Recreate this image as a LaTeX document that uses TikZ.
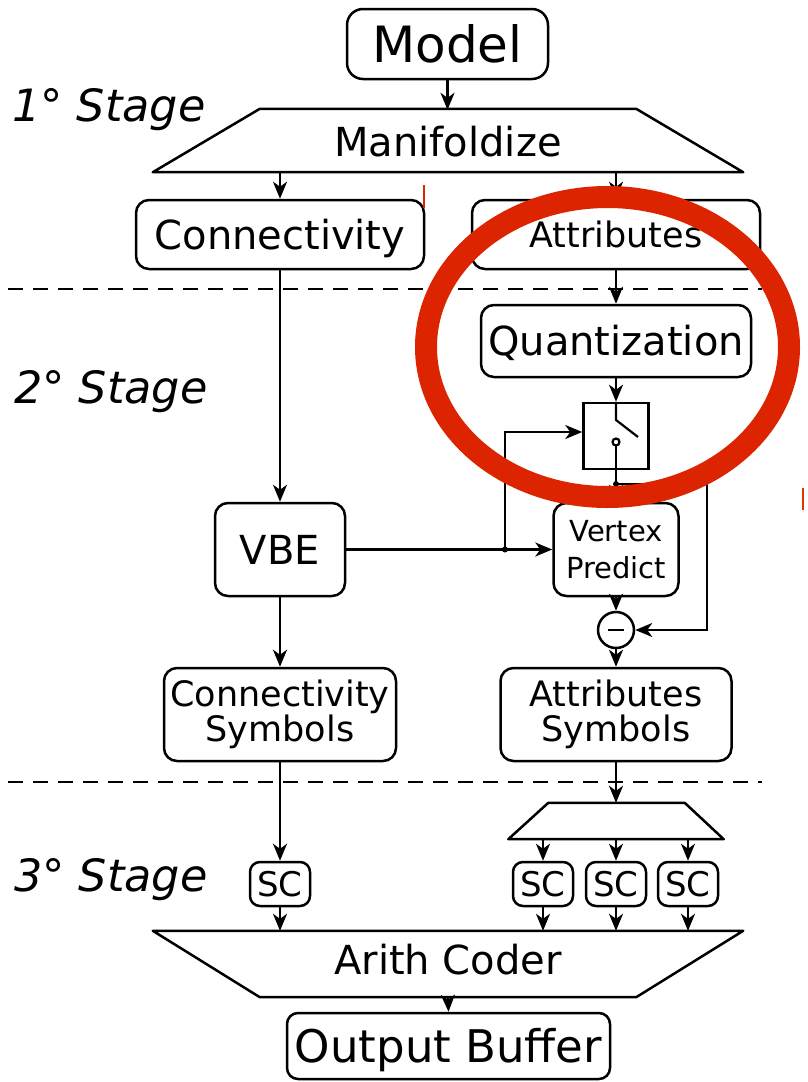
\documentclass[tikz,border=0pt]{standalone}
\usepackage{fontspec}
\setmainfont{DejaVu Sans}
\usetikzlibrary{arrows.meta,calc}
\definecolor{hl}{RGB}{221,36,0}
\tikzset{
  box/.style={draw, line width=2.5pt, rounded corners=13pt, inner sep=0pt, align=center},
  capc/.style={text height=#1, text depth=0pt},
  conn/.style={line width=2.2pt, -{Stealth[length=17pt,width=14pt,inset=5pt]}},
  plain/.style={line width=2.2pt},
  outline/.style={line width=2.5pt, line join=round},
  fA/.style={font=\fontsize{50pt}{50pt}\selectfont},
  fB/.style={font=\fontsize{40pt}{40pt}\selectfont},
  fC/.style={font=\fontsize{35pt}{35pt}\selectfont},
  fD/.style={font=\fontsize{29pt}{37pt}\selectfont},
  fE/.style={font=\fontsize{34pt}{34pt}\selectfont},
  fF/.style={font=\fontsize{45pt}{45pt}\selectfont},
  stagelbl/.style={anchor=base west, inner sep=0pt, font=\fontsize{44.5pt}{44.5pt}\selectfont\itshape},
  scbox/.style={box, fE, capc=24.8pt, minimum width=60pt, minimum height=44pt, rounded corners=10pt},
  dot/.style={fill, circle, inner sep=0pt, minimum size=6pt}
}
\begin{document}
\begin{tikzpicture}[x=1pt,y=-1pt]
\useasboundingbox (0,0) rectangle (807,1082);

% stage labels
\node[stagelbl] (st1) at (12,121) {1° Stage};
\node[stagelbl] (st2) at (14,403) {2° Stage};
\node[stagelbl] (st3) at (14,891) {3° Stage};

% dashed separators
\coordinate (d1a) at (8,289);   \coordinate (d1b) at (762,289);
\coordinate (d2a) at (8,782);   \coordinate (d2b) at (762,782);
\draw[line width=2.2pt, dash pattern=on 15pt off 10pt] (d1a) -- (d1b);
\draw[line width=2.2pt, dash pattern=on 15pt off 10pt] (d2a) -- (d2b);

% stage 1
\node[box, fA, capc=36.5pt, minimum width=201pt, minimum height=70pt, rounded corners=16pt] (model) at (447.5,44) {Model};
\node[fB, capc=29.2pt, inner sep=0pt, minimum width=590pt, minimum height=63pt] (man) at (448,141.5) {Manifoldize};
\draw[outline] ([yshift=1pt]man.south west) -- ([yshift=1pt]man.south east) -- ([xshift=-107pt,yshift=1pt]man.north east) -- ([xshift=107pt,yshift=1pt]man.north west) -- cycle;
\node[box, fB, capc=29.2pt, minimum width=288pt, minimum height=69pt] (conn) at (280,234.5) {Connectivity};
\node[box, fC, capc=25.5pt, minimum width=288pt, minimum height=69pt] (attr) at (616,234.5) {Attributes};

% stage 2
\node[box, fB, capc=29.2pt, minimum width=270pt, minimum height=72pt] (quant) at (616,341) {Quantization};
\node[draw, line width=2.5pt, inner sep=0pt, minimum width=65pt, minimum height=66pt] (sw) at (616,436) {};
\coordinate (swa) at (616,420);
\coordinate (swb) at (638,437);
\coordinate (swc) at (616,442);
\draw[plain] (sw.north) -- (swa) -- (swb);
\draw[plain] (swc) circle[radius=3.5pt];
\draw[plain] ([yshift=-3.5pt]swc) -- (sw.south);

\node[box, fB, capc=29.2pt, minimum width=130pt, minimum height=93pt] (vbe) at (280,549.5) {VBE};
\node[box, fD, minimum width=125pt, minimum height=93pt] (vp) at (616,549.5) {Vertex\\Predict};
\node[draw, circle, line width=2.5pt, inner sep=0pt, minimum size=36pt] (mn) at (616,630) {};
\draw[line width=2.6pt] ([xshift=-8pt]mn.center) -- ([xshift=8pt]mn.center);
\node[box, fC, minimum width=232pt, minimum height=93pt] (cs) at (280,714.5) {Connectivity\\Symbols};
\node[box, fC, minimum width=231pt, minimum height=93pt] (as) at (616,714.5) {Attributes\\Symbols};

% stage 3
\node[inner sep=0pt, minimum width=215pt, minimum height=36pt] (dmux) at (616,821) {};
\draw[outline] (dmux.south west) -- (dmux.south east) -- ([xshift=-39pt]dmux.north east) -- ([xshift=40pt]dmux.north west) -- cycle;
\node[scbox] (sc0) at (280,884) {SC};
\node[scbox] (sc1) at (543,884) {SC};
\node[scbox] (sc2) at (616,884) {SC};
\node[scbox] (sc3) at (688,884) {SC};
\node[fB, inner sep=0pt, text height=29pt, text depth=9pt, minimum width=590pt, minimum height=66pt] (ac) at (448,964) {Arith Coder};
\draw[outline] (ac.north west) -- (ac.north east) -- ([xshift=-107pt]ac.south east) -- ([xshift=107pt]ac.south west) -- cycle;
\node[box, fF, capc=32.8pt, minimum width=323pt, minimum height=66pt, rounded corners=11pt] (ob) at (448.5,1046) {Output Buffer};

% connectors
\draw[conn] (model.south) -- (model.south |- man.north);
\draw[conn] (conn.north |- man.south) -- (conn.north);
\draw[conn] (attr.north |- man.south) -- (attr.north);
\draw[conn] (conn.south) -- (vbe.north);
\draw[conn] (attr.south) -- (quant.north);
\draw[conn] (quant.south) -- (sw.north);

\coordinate (j2) at (616,484);
\coordinate (fb) at (707,484);
\draw[plain] (sw.south) -- (j2);
\node[dot] (j2d) at (j2) {};
\draw[conn] (j2) -- (vp.north);
\draw[conn] (j2) -- (fb) |- (mn.east);

\coordinate (j1) at (505,549.5);
\draw[conn] (vbe.east) -- (vp.west);
\node[dot] (j1d) at (j1) {};
\draw[conn] (j1) |- ([yshift=4pt]sw.west);

\draw[conn] (vp.south) -- (mn.north);
\draw[conn] (mn.south) -- (as.north);
\draw[conn] (vbe.south) -- (cs.north);
\draw[conn] (cs.south) -- (sc0.north);
\draw[conn] (as.south) -- (dmux.north);
\foreach \s in {sc1,sc2,sc3} {
  \draw[conn] (\s.north |- dmux.south) -- (\s.north);
}
\foreach \s in {sc0,sc1,sc2,sc3} {
  \draw[conn] (\s.south) -- (\s.south |- ac.north);
}
\draw[conn] (ac.south) -- (ob.north);

% highlight
\draw[hl, line width=22pt] (607.5,347) ellipse [x radius=181.5pt, y radius=150pt];
\draw[hl, line width=1.2pt] (424,185) -- (424,208);
\draw[hl!80!orange, line width=1.8pt] (803,488) -- (803,510);
\end{tikzpicture}
\end{document}
